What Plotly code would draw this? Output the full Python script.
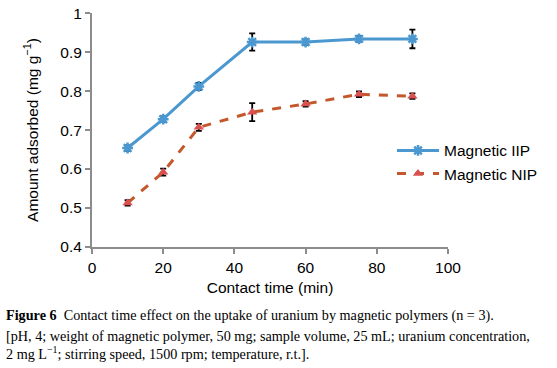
import plotly.graph_objects as go

time_min = [10, 20, 30, 45, 60, 75, 90]
iip_values = [0.654, 0.728, 0.812, 0.926, 0.926, 0.934, 0.934]
iip_err = [0.007, 0.007, 0.009, 0.022, 0.007, 0.007, 0.024]
nip_values = [0.513, 0.592, 0.707, 0.746, 0.767, 0.792, 0.787]
nip_err = [0.007, 0.009, 0.009, 0.023, 0.007, 0.007, 0.007]
x_ticks = [0, 20, 40, 60, 80, 100]
y_ticks = [0.4, 0.5, 0.6, 0.7, 0.8, 0.9, 1]
y_tick_labels = ["0.4", "0.5", "0.6", "0.7", "0.8", "0.9", "1"]

W, H = 557, 368
L, R, T, B = 92, 109, 5, 121
pw = W - L - R
ph = H - T - B

def px(xp):
    return (xp - L) / pw

def py(yp):
    return (H - B - yp) / ph

fig = go.Figure()
fig.add_trace(go.Scatter(
    x=time_min, y=iip_values, name="Magnetic IIP", mode="lines+markers",
    line=dict(color="#4b98d0", width=3),
    marker=dict(symbol="asterisk-open", size=9, color="#4b98d0",
                line=dict(color="#4b98d0", width=2.5)),
    error_y=dict(type="data", array=iip_err, color="black", thickness=1.8, width=3),
))
fig.add_trace(go.Scatter(
    x=time_min, y=nip_values, name="Magnetic NIP", mode="lines+markers",
    line=dict(color="#c4572b", width=3, dash="dash"),
    marker=dict(symbol="triangle-up", size=9, color="#dc4f4f"),
    error_y=dict(type="data", array=nip_err, color="black", thickness=1.8, width=3),
))

axis_font = dict(family="Liberation Sans, Arial, sans-serif", size=15.5, color="black")
fig.update_xaxes(
    range=[0, 100], tickvals=x_ticks, showgrid=False, zeroline=False,
    showline=True, linecolor="#8c8c8c", linewidth=2,
    ticks="outside", tickcolor="#8c8c8c", ticklen=5, tickwidth=2,
    tickfont=axis_font, ticklabeloverflow="allow",
    title=dict(text="Contact time (min)", font=axis_font, standoff=8),
)
fig.update_yaxes(
    range=[0.4, 1.0005], tickvals=y_ticks, ticktext=y_tick_labels,
    showgrid=False, zeroline=False,
    showline=True, linecolor="#8c8c8c", linewidth=2,
    ticks="outside", tickcolor="#8c8c8c", ticklen=5, tickwidth=2,
    tickfont=axis_font, ticklabeloverflow="allow",
    title=dict(text="Amount adsorbed (mg g<sup>−1</sup>)", font=axis_font, standoff=18),
)

serif = dict(family="Liberation Serif, Times New Roman, serif", size=14.2, color="black")
captions = [
    ("<b>Figure 6</b>  Contact time effect on the uptake of uranium by magnetic polymers (n = 3).", 318),
    ("[pH, 4; weight of magnetic polymer, 50 mg; sample volume, 25 mL; uranium concentration,", 339),
    ("2 mg L<sup>−1</sup>; stirring speed, 1500 rpm; temperature, r.t.].", 357),
]
for text, yp in captions:
    fig.add_annotation(
        text=text, xref="paper", yref="paper", x=px(4), y=py(yp),
        xanchor="left", yanchor="middle", showarrow=False, font=serif, align="left",
    )

fig.update_layout(
    width=W, height=H,
    margin=dict(l=L, r=R, t=T, b=B, pad=0),
    paper_bgcolor="white", plot_bgcolor="white",
    showlegend=True,
    legend=dict(
        x=px(392), y=py(130), xanchor="left", yanchor="top",
        font=axis_font, bgcolor="rgba(0,0,0,0)", tracegroupgap=6,
        itemwidth=42,
    ),
)

fig.write_html(
    "out.html",
    config={"displayModeBar": False},
    post_script="document.body.style.margin='0';document.body.style.padding='0';",
)
